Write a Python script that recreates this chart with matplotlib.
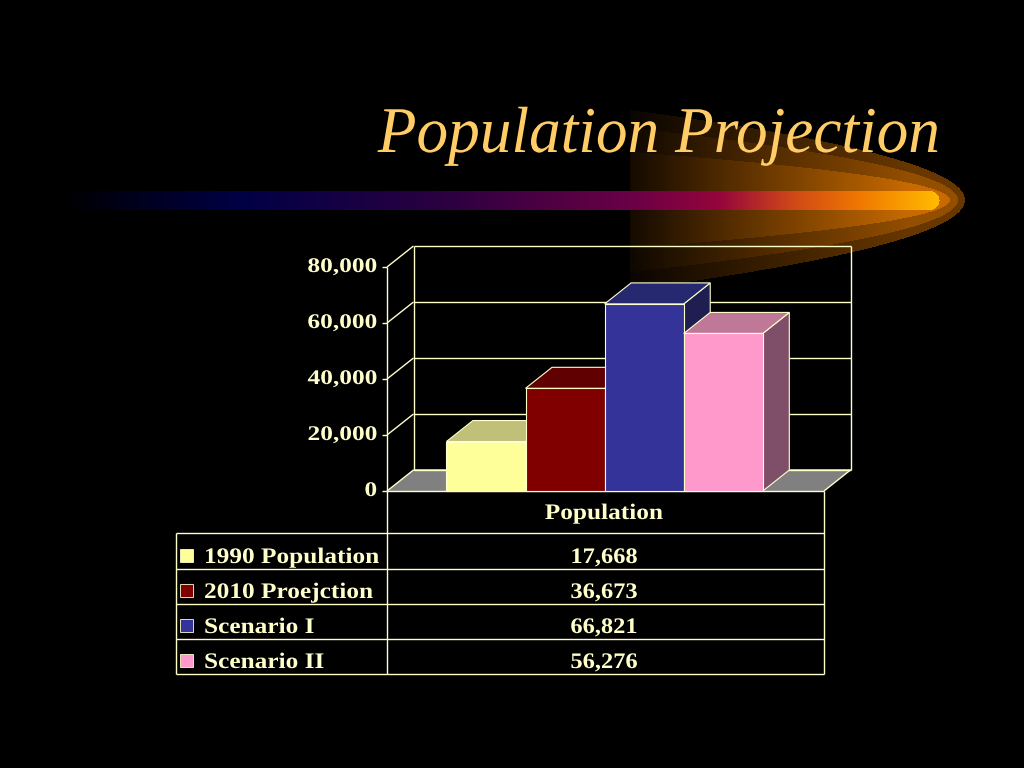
import numpy as np
import matplotlib.pyplot as plt
from matplotlib.patches import Polygon, Rectangle
from matplotlib.patheffects import AbstractPathEffect
from matplotlib.transforms import Affine2D

# data
series = ["1990 Population", "2010 Proejction", "Scenario I", "Scenario II"]
values = [17668, 36673, 66821, 56276]
category = "Population"
yticks = [0, 20000, 40000, 60000, 80000]

front_colors = ["#FFFF99", "#800000", "#333399", "#FF99CC"]
top_colors = ["#C0C078", "#600000", "#262870", "#C07898"]
side_colors = ["#B0B070", "#500000", "#1E1E50", "#7F4F6A"]

txt = "#FFFFCC"
serif = ["Liberation Serif", "DejaVu Serif"]


class Stretch(AbstractPathEffect):
    # widen text horizontally, the slide font is letter-spaced
    def __init__(self, sx, anchor="left"):
        super().__init__()
        self.sx = sx
        self.anchor = anchor

    def draw_path(self, renderer, gc, tpath, affine, rgbFace=None):
        v = tpath.vertices
        if len(v) == 0:
            return
        if self.anchor == "right":
            a = v[:, 0].max()
        elif self.anchor == "center":
            a = (v[:, 0].min() + v[:, 0].max()) / 2
        else:
            a = 0
        t = Affine2D().translate(-a, 0).scale(self.sx, 1).translate(a, 0)
        renderer.draw_path(gc, tpath, t + affine, rgbFace)


W, H = 1024, 768
fig = plt.figure(figsize=(10.24, 7.68), dpi=100, facecolor="black")

# background: glow + streak, pixel coords
bg = fig.add_axes([0, 0, 1, 1])
bg.set_xlim(0, W)
bg.set_ylim(H, 0)
bg.axis("off")

xx, yy = np.meshgrid(np.arange(W) + 0.5, np.arange(H) + 0.5)
ramp = 0.1 + 0.9 * np.clip((xx - 630) / (910 - 630), 0, 1)
level = np.zeros_like(xx)
for tip, h0, lv in [(965, 90, 0.52), (958, 72, 0.74), (950, 48, 1.0)]:
    half = h0 * np.sqrt(np.clip((tip - xx) / (tip - 630), 0, None))
    level[(np.abs(yy - 200) <= half) & (xx >= 630)] = lv
base = np.array([200, 106, 0]) / 255
img = level[..., None] * ramp[..., None] * base

stops_x = [60, 240, 450, 640, 720, 790, 860, 935]
stops_c = np.array([(0, 0, 0), (0, 0, 70), (45, 0, 65), (110, 0, 70),
                    (150, 5, 60), (205, 70, 25), (240, 120, 0), (255, 185, 0)]) / 255
streak = (np.abs(yy - 200.5) <= 9.5) & (xx >= 60) & (xx <= 930)
streak |= (xx > 930) & ((xx - 930) ** 2 + (yy - 200.5) ** 2 <= 9.5 ** 2)
for k in range(3):
    ch = np.interp(xx, stops_x, stops_c[:, k])
    img[..., k] = np.where(streak, ch, img[..., k])
bg.imshow(img, extent=(0, W, H, 0), interpolation="nearest", zorder=0)

bg.text(940, 152, "Population Projection", ha="right", va="baseline",
        fontsize=47, family=serif, style="italic", color="#FFCC66", zorder=5,
        path_effects=[Stretch(0.97, "right")])

# chart axes: front plane 387..824 px, 491..267 px
ax = fig.add_axes([387 / W, 1 - 491 / H, 437 / W, 224 / H])
ax.set_xlim(0, 1)
ax.set_ylim(0, 80000)
ax.axis("off")
ax.patch.set_alpha(0)

DX = 26.5 / 437
DY = 21 / 224 * 80000
lc = dict(color=txt, lw=1, clip_on=False, solid_capstyle="butt")

# floor
ax.add_patch(Polygon([(0, 0), (1, 0), (1 + DX, DY), (DX, DY)], closed=True,
                     facecolor="#808080", edgecolor="none", clip_on=False, zorder=1))
ax.plot([DX, 1 + DX, 1], [DY, DY, 0], **lc, zorder=2)
ax.plot([0, 1], [0, 0], **lc, zorder=2)

# back wall + left wall
for t in yticks:
    ax.plot([DX, 1 + DX], [t + DY, t + DY], **lc, zorder=1.5)
    ax.plot([0, DX], [t, t + DY], **lc, zorder=1.5)
    ax.plot([-0.011, 0], [t, t], **lc, zorder=1.5)
    ax.text(-0.023, t, f"{t:,}", ha="right", va="center", fontsize=15,
            family=serif, weight="bold", color=txt,
            path_effects=[Stretch(1.22, "right")])
ax.plot([DX, DX], [DY, 80000 + DY], **lc, zorder=1.5)
ax.plot([1 + DX, 1 + DX], [DY, 80000 + DY], **lc, zorder=1.5)
ax.plot([0, 0], [0, 80000], **lc, zorder=1.5)

# 3D bars
x0, bw = 0.136, 0.181
for i, v in enumerate(values):
    l = x0 + i * bw
    r = l + bw
    z = 3 + i
    ax.add_patch(Polygon([(r, 0), (r + DX, DY), (r + DX, v + DY), (r, v)], closed=True,
                         facecolor=side_colors[i], edgecolor=txt, lw=0.8, zorder=z,
                         clip_on=False))
    ax.add_patch(Polygon([(l, v), (r, v), (r + DX, v + DY), (l + DX, v + DY)], closed=True,
                         facecolor=top_colors[i], edgecolor=txt, lw=0.8, zorder=z,
                         clip_on=False))
    ax.add_patch(Rectangle((l, 0), bw, v, facecolor=front_colors[i], edgecolor=txt,
                           lw=0.8, zorder=z, clip_on=False))

# data table, pixel coords
tl = dict(color=txt, lw=1, zorder=5, solid_capstyle="butt")
rows = [533, 569, 604, 639, 674]
bg.plot([387, 387], [491, 674], **tl)
bg.plot([824, 824], [491, 674], **tl)
bg.plot([176, 176], [533, 674], **tl)
for yv in rows:
    bg.plot([176, 824], [yv, yv], **tl)
tk = dict(fontsize=16, family=serif, weight="bold", color=txt, zorder=6, va="baseline")
bg.text(604, 519, category, ha="center", path_effects=[Stretch(1.14, "center")], **tk)
for i, name in enumerate(series):
    yb = rows[i + 1] - 6
    bg.add_patch(Rectangle((180, yb - 14), 13, 13, facecolor=front_colors[i],
                           edgecolor=txt, lw=0.6, zorder=6))
    bg.text(204, yb, name, ha="left", path_effects=[Stretch(1.14, "left")], **tk)
    bg.text(604, yb, f"{values[i]:,}", ha="center",
            path_effects=[Stretch(1.1, "center")], **tk)

fig.savefig("out.png", dpi=100, facecolor="black")
